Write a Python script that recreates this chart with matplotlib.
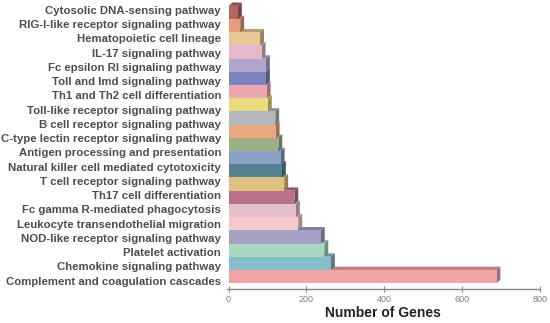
import numpy as np
import matplotlib
matplotlib.use("Agg")
import matplotlib.pyplot as plt
from matplotlib.patches import Polygon, Rectangle
from matplotlib.colors import to_rgb

plt.rcParams['font.family'] = ['Liberation Sans', 'DejaVu Sans']

# category labels, top to bottom
pathways = [
    "Cytosolic DNA-sensing pathway",
    "RIG-I-like receptor signaling pathway",
    "Hematopoietic cell lineage",
    "IL-17 signaling pathway",
    "Fc epsilon RI signaling pathway",
    "Toll and Imd signaling pathway",
    "Th1 and Th2 cell differentiation",
    "Toll-like receptor signaling pathway",
    "B cell receptor signaling pathway",
    "C-type lectin receptor signaling pathway",
    "Antigen processing and presentation",
    "Natural killer cell mediated cytotoxicity",
    "T cell receptor signaling pathway",
    "Th17 cell differentiation",
    "Fc gamma R-mediated phagocytosis",
    "Leukocyte transendothelial migration",
    "NOD-like receptor signaling pathway",
    "Platelet activation",
    "Chemokine signaling pathway",
    "Complement and coagulation cascades",
]

# bar lengths, top to bottom (the picture shows 21 bars)
gene_counts = [24, 30, 81, 85, 96, 96, 98, 101, 120, 121, 128,
               134, 137, 143, 169, 173, 179, 237, 246, 263, 688]

bar_colors = ["#b5645f", "#eb9c7c", "#e6c897", "#e5b9c9", "#b4a5d0",
              "#7c84bd", "#eba8b1", "#e9dc7e", "#b3b9bf", "#eba982",
              "#9cb087", "#8aa2c5", "#56818f", "#dec181", "#b87189",
              "#e2bfc9", "#f7c9cd", "#a59fc6", "#a8d9c0", "#86bdcb",
              "#f2a3a3"]

xticks = [0, 200, 400, 600, 800]

fig = plt.figure(figsize=(5.5, 3.23), dpi=100)
ax = fig.add_axes([0.412, 0.105, 0.570, 0.895])

dx, dy = 10, 0.25  # fake 3D depth
for i, (val, col) in enumerate(zip(gene_counts[::-1], bar_colors[::-1])):
    y0, y1 = i - 0.5, i + 0.5
    base = np.array(to_rgb(col))
    z = 2 + i * 0.01
    top = Polygon([(0, y1), (val, y1), (val + dx, y1 + dy), (dx, y1 + dy)],
                  closed=True, fc=base * 0.78, ec='none', zorder=z)
    side = Polygon([(val, y0), (val + dx, y0 + dy), (val + dx, y1 + dy), (val, y1)],
                   closed=True, fc=base * 0.66, ec='none', zorder=z)
    front = Rectangle((0, y0), val, 1, fc=col, ec='none', zorder=z + 0.005)
    for p in (top, side, front):
        p.set_clip_on(False)
        ax.add_patch(p)

ax.set_xlim(-5, 800)
ax.set_ylim(-0.95, 20.94)

ax.set_yticks(np.linspace(-0.3, 20.2, len(pathways)), pathways[::-1])
ax.tick_params(axis='y', length=0, pad=4, labelsize=8.2, labelcolor='#4d4d4d')
for t in ax.get_yticklabels():
    t.set_fontweight('bold')

ax.set_xticks(xticks)
ax.tick_params(axis='x', direction='inout', length=4, width=0.8, color='#888888',
               labelsize=6.5, labelcolor='#808080', pad=2)
ax.set_xlabel("Number of Genes", fontsize=10, fontweight='bold',
              color='#222222', labelpad=2)

for s in ('top', 'right', 'left'):
    ax.spines[s].set_visible(False)
ax.spines['bottom'].set_color('#888888')
ax.spines['bottom'].set_linewidth(1.0)
ax.patch.set_alpha(0)

fig.savefig("out.png", dpi=100)
